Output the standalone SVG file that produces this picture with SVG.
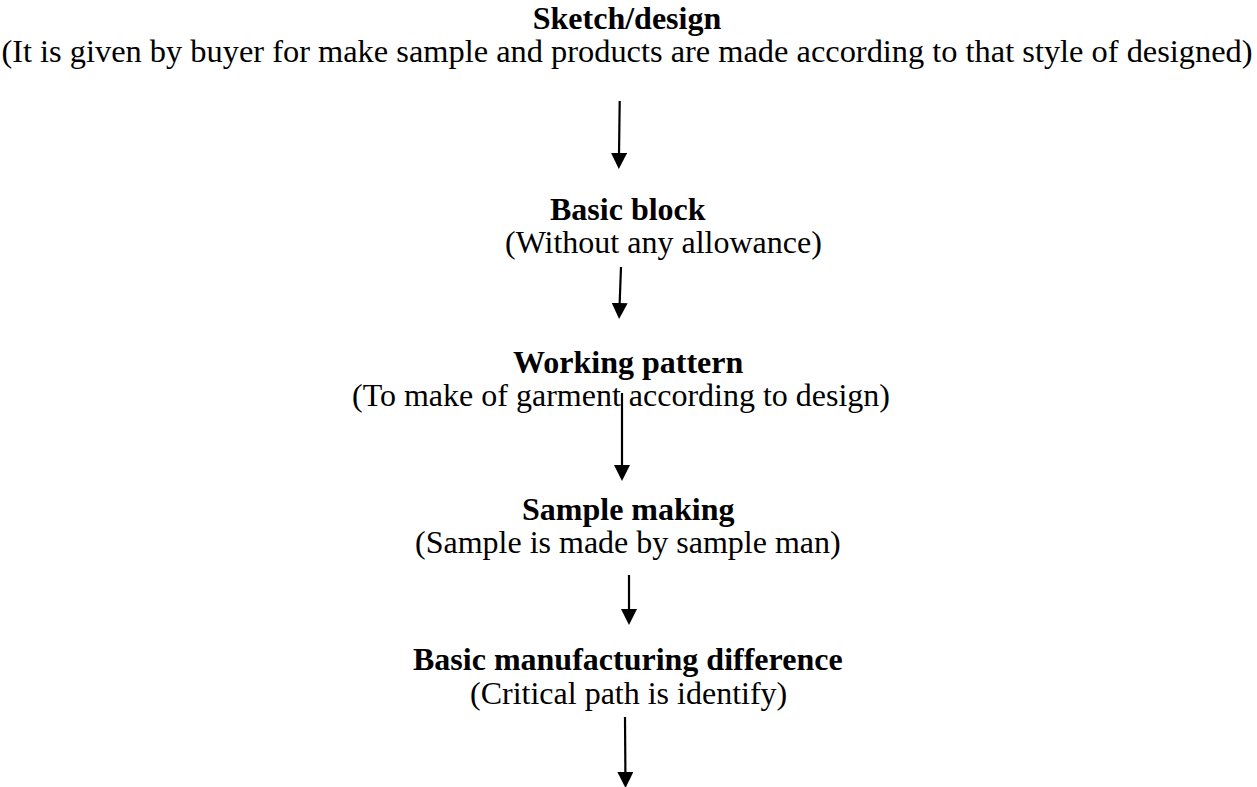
<svg xmlns="http://www.w3.org/2000/svg" width="1257" height="787" viewBox="0 0 1257 787">
  <style>
    .head { font-family: "Liberation Serif", "Times New Roman", serif; font-size: 32px; font-weight: bold; fill: #000; }
    .note { font-family: "Liberation Serif", "Times New Roman", serif; font-size: 32px; fill: #000; }
    .wide { font-size: 32.4px; }
    .flow { stroke: #000; stroke-width: 2.2; fill: none; }
  </style>
  <defs>
    <marker id="tip" markerUnits="userSpaceOnUse" markerWidth="16" markerHeight="16" refX="2" refY="8" orient="auto">
      <path d="M0,0 L16,8 L0,16 z" fill="#000"/>
    </marker>
  </defs>
  <rect width="1257" height="787" fill="#fff"/>

  <g id="sketch-design">
    <text class="head" x="627" y="29" text-anchor="middle">Sketch/design</text>
    <text class="note wide" x="627" y="62" text-anchor="middle">(It is given by buyer for make sample and products are made according to that style of designed)</text>
  </g>

  <g id="basic-block">
    <text class="head" x="550" y="220">Basic block</text>
    <text class="note" x="505" y="253">(Without any allowance)</text>
  </g>

  <g id="working-pattern">
    <text class="head" x="513" y="373">Working pattern</text>
    <text class="note" x="352" y="406">(To make of garment according to design)</text>
  </g>

  <g id="sample-making">
    <text class="head" x="522" y="520">Sample making</text>
    <text class="note" x="415" y="553">(Sample is made by sample man)</text>
  </g>

  <g id="manufacturing-difference">
    <text class="head" x="413" y="670">Basic manufacturing difference</text>
    <text class="note" x="470" y="704">(Critical path is identify)</text>
  </g>

  <!-- downward flow arrows between the steps -->
  <g id="connectors">
    <path class="flow" d="M619.7,101 L619,155" marker-end="url(#tip)"/>
    <path class="flow" d="M621,267 L619.6,305" marker-end="url(#tip)"/>
    <path class="flow" d="M622,393 L622,467" marker-end="url(#tip)"/>
    <path class="flow" d="M629,575 L629,611" marker-end="url(#tip)"/>
    <path class="flow" d="M625,717 L625.4,774" marker-end="url(#tip)"/>
  </g>
</svg>
